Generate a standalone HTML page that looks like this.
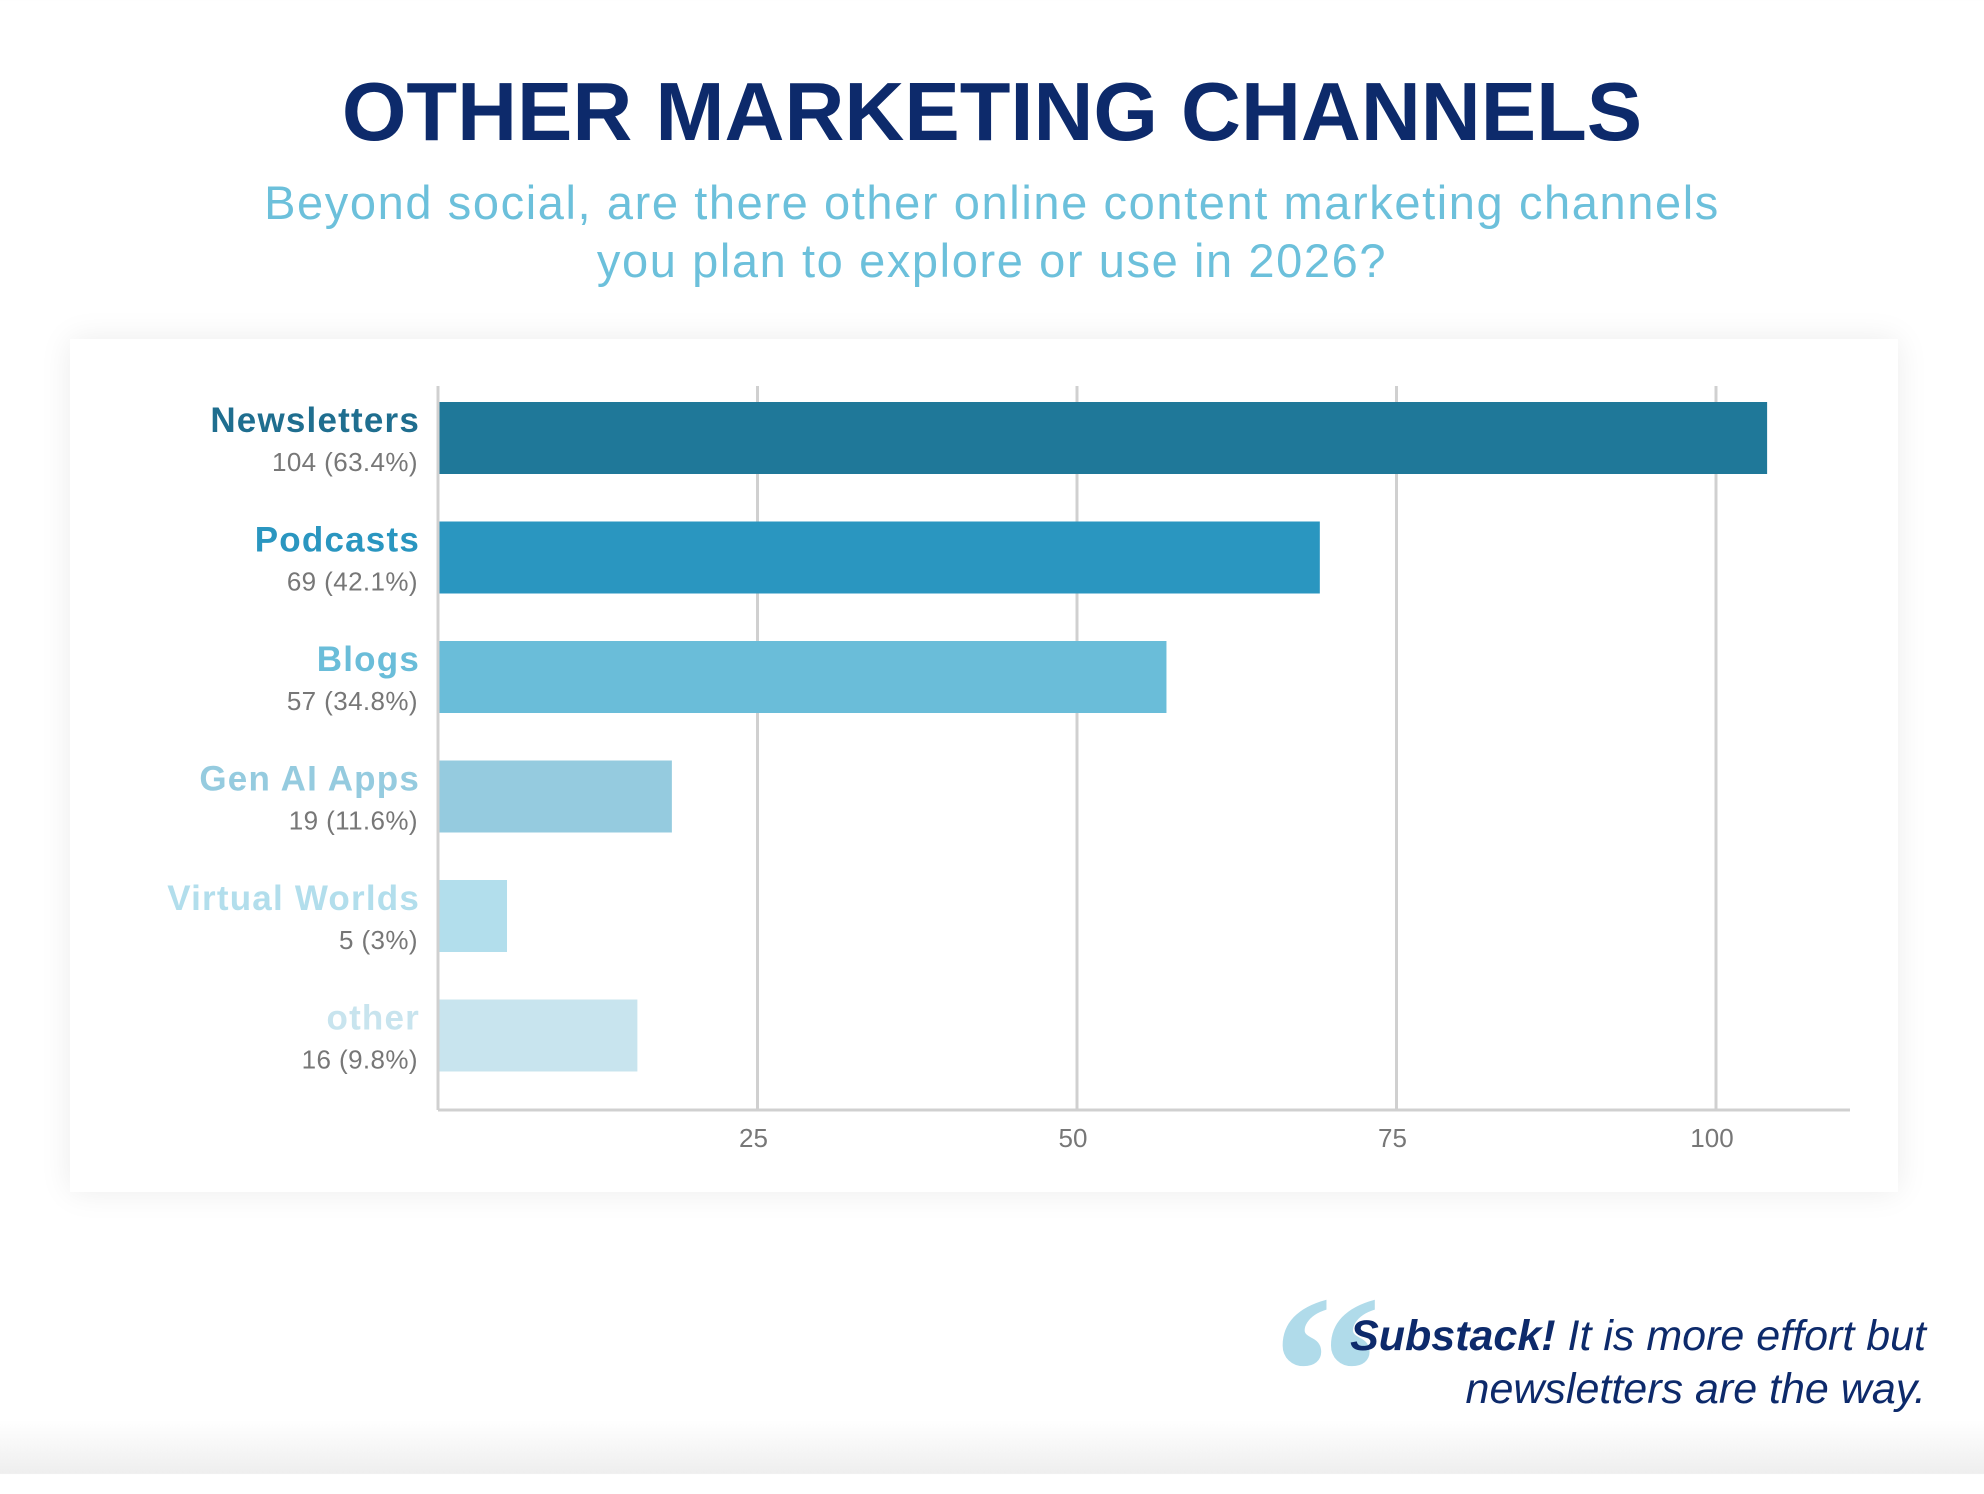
<!DOCTYPE html>
<html><head><meta charset="utf-8">
<style>
html,body{margin:0;padding:0;}
body{width:1984px;height:1474px;background:linear-gradient(#fff 0,#fff 1420px,#eeeeee 1474px);position:relative;overflow:hidden;font-family:"Liberation Sans",sans-serif;}
#title{position:absolute;left:0;width:1984px;top:64px;text-align:center;font-weight:bold;font-size:83px;color:#0d2a6b;letter-spacing:0px;}
#sub{position:absolute;left:0;width:1984px;top:174px;text-align:center;font-size:47px;line-height:58px;color:#6cc0db;letter-spacing:1.6px;}
#card{position:absolute;left:70px;top:339px;width:1828px;height:853px;background:#fff;box-shadow:0 0 30px rgba(0,0,0,0.08);}
#quote{position:absolute;right:58px;top:1310px;text-align:right;font-style:italic;font-size:43px;line-height:53px;color:#0d2a6b;}
#qm{position:absolute;left:1272px;top:1262px;font-size:220px;font-weight:bold;color:#a8d8e8;font-family:"Liberation Serif",serif;line-height:1;opacity:0.9;}
</style></head><body>
<div id="title">OTHER MARKETING CHANNELS</div>
<div id="sub">Beyond social, are there other online content marketing channels<br>you plan to explore or use in 2026?</div>
<div id="card"></div>
<svg id="chart" width="1984" height="1474" style="position:absolute;left:0;top:0"></svg>
<div id="qm">“</div>
<div id="quote"><b>Substack!</b> It is more effort but<br>newsletters are the way.</div>
<script>
const categories=["Newsletters","Podcasts","Blogs","Gen AI Apps","Virtual Worlds","other"];
const values=[104,69,57,18.3,5.4,15.6];
const valueLabels=["104 (63.4%)","69 (42.1%)","57 (34.8%)","19 (11.6%)","5 (3%)","16 (9.8%)"];
const ticks=[25,50,75,100];
const colors=["#1f7899","#2a96c0","#6abdd9","#95cbdf","#b2deec","#c8e4ee"];
const labelColors=["#1f6e8f","#2a96c0","#6abdd9","#95cbdf","#b2deec","#c8e4ee"];
const NS="http://www.w3.org/2000/svg";
const svg=document.getElementById("chart");
const x0=438,pxPer=319.5/25,yTop=386,yBot=1110,xEnd=1850;
const xs=v=>x0+v*pxPer;
const yBand=i=>402+i*119.5;
const bh=72;
function mk(t,a){const e=document.createElementNS(NS,t);for(const k in a)e.setAttribute(k,a[k]);svg.appendChild(e);return e;}
ticks.forEach(t=>{
 const g=mk("line",{x1:xs(t),x2:xs(t),y1:yTop,y2:yBot,stroke:"#d0d0d0","stroke-width":3});
 
 
 const l=mk("text",{x:xs(t)-4,y:1147,"text-anchor":"middle","font-size":26,fill:"#777","font-family":"Liberation Sans, sans-serif"});
 l.textContent=t;
 
 
});
categories.forEach((c,i)=>{
 const r=mk("rect",{x:x0,y:yBand(i),width:xs(values[i])-x0,height:bh,fill:colors[i]});
 
 
 const n=mk("text",{x:420,y:yBand(i)+30,"text-anchor":"end","font-size":35,"font-weight":"bold","letter-spacing":1.2,fill:labelColors[i],"font-family":"Liberation Sans, sans-serif"});
 n.textContent=c;
 
 
 const v=mk("text",{x:418,y:yBand(i)+69,"text-anchor":"end","font-size":26,"letter-spacing":0.4,fill:"#777","font-family":"Liberation Sans, sans-serif"});
 v.textContent=valueLabels[i];
 
 
});
const ya=mk("line",{x1:x0,x2:x0,y1:yTop,y2:yBot,stroke:"#d0d0d0","stroke-width":3});


const xa=mk("line",{x1:x0,x2:xEnd,y1:yBot,y2:yBot,stroke:"#d0d0d0","stroke-width":3});


</script>
</body></html>
